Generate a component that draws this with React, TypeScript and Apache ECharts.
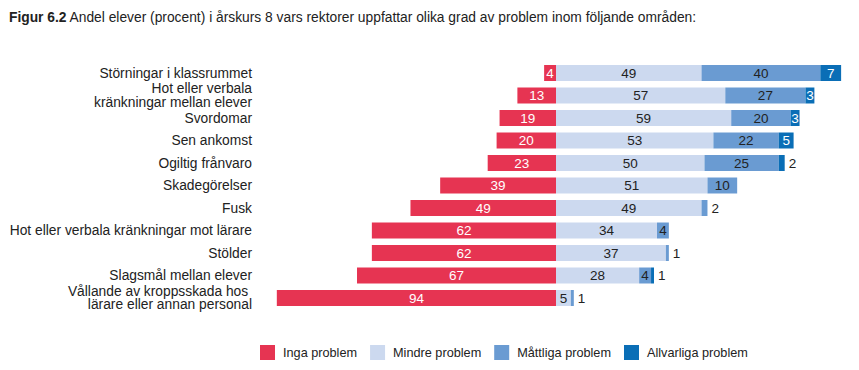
import React, { useEffect, useRef } from "react";
import * as echarts from "echarts";

const categories = [
  "Störningar i klassrummet",
  "Hot eller verbala\nkränkningar mellan elever",
  "Svordomar",
  "Sen ankomst",
  "Ogiltig frånvaro",
  "Skadegörelser",
  "Fusk",
  "Hot eller verbala kränkningar mot lärare",
  "Stölder",
  "Slagsmål mellan elever",
  "Vållande av kroppsskada hos \nlärare eller annan personal",
];
const ingaProblem = [4, 13, 19, 20, 23, 39, 49, 62, 62, 67, 94];
const mindreProblem = [49, 57, 59, 53, 50, 51, 49, 34, 37, 28, 5];
const mattligaProblem = [40, 27, 20, 22, 25, 10, 2, 4, 1, 4, 1];
const allvarligaProblem = [7, 3, 3, 5, 2, 0, 0, 0, 0, 1, 0];

const seriesNames = ["Inga problem", "Mindre problem", "Måttliga problem", "Allvarliga problem"];
const colors = ["#E63452", "#CCD9EF", "#6A9BD2", "#0A6EB6"];
const FONT = "Liberation Sans, Arial, sans-serif";

export default function App() {
  const ref = useRef<HTMLDivElement>(null);
  useEffect(() => {
    document.body.style.margin = "0";
    if (!ref.current) return;
    const chart = echarts.init(ref.current, null, { renderer: "svg" });

    const makeData = (vals: number[], sign: number, insideColor: string) =>
      vals.map((v) => {
        const small = v > 0 && v <= 2;
        return {
          value: v === 0 ? null : sign * v,
          label: {
            show: v > 0,
            position: small ? "right" : "inside",
            color: small ? "#222" : insideColor,
            distance: 4,
          },
        };
      });

    const seriesVals = [ingaProblem, mindreProblem, mattligaProblem, allvarligaProblem];
    const insideColors = ["#fff", "#222", "#222", "#fff"];

    chart.setOption({
      animation: false,
      textStyle: { fontFamily: FONT },
      title: {
        left: 4,
        top: 5,
        text: "{b|Figur 6.2} Andel elever (procent) i årskurs 8 vars rektorer uppfattar olika grad av problem inom följande områden:",
        textStyle: {
          fontSize: 13.8,
          fontWeight: "normal",
          color: "#222",
          fontFamily: FONT,
          rich: { b: { fontWeight: "bold", fontSize: 13.8, color: "#222", fontFamily: FONT } },
        },
      },
      legend: {
        left: 255,
        top: 340,
        itemWidth: 15,
        itemHeight: 15,
        itemGap: 13,
        icon: "rect",
        data: seriesNames,
        textStyle: { fontSize: 12.7, color: "#222", fontFamily: FONT, padding: [0, 0, 0, 3] },
      },
      grid: { left: 259, right: 6, top: 61.75, bottom: 60.75, containLabel: false },
      xAxis: {
        type: "value",
        min: -100,
        max: 100,
        show: false,
      },
      yAxis: {
        type: "category",
        data: categories,
        inverse: true,
        axisLine: { show: false },
        axisTick: { show: false },
        axisLabel: { fontSize: 13.8, color: "#222", margin: 7, lineHeight: 13.5, fontFamily: FONT },
      },
      series: seriesVals.map((vals, i) => ({
        name: seriesNames[i],
        type: "bar",
        stack: "total",
        barWidth: 16,
        itemStyle: { color: colors[i] },
        label: {
          fontSize: 13.5,
          fontFamily: FONT,
          formatter: (p: any) => String(Math.abs(p.value)),
        },
        data: makeData(vals, i === 0 ? -1 : 1, insideColors[i]),
      })),
    });
    return () => chart.dispose();
  }, []);
  return <div ref={ref} style={{ width: 859, height: 370 }} />;
}
